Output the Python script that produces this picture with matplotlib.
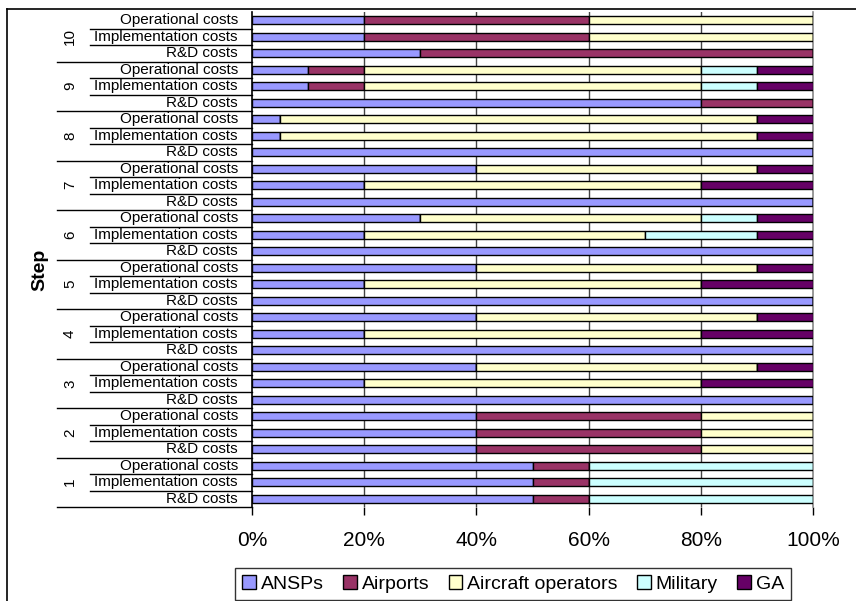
import numpy as np
import matplotlib.pyplot as plt
from matplotlib.patches import Rectangle
from matplotlib.lines import Line2D
import matplotlib.transforms as mtransforms

plt.rcParams['font.family'] = ['Liberation Sans', 'DejaVu Sans']

steps = [str(s) for s in range(1, 11)]
cost_types = ['R&D costs', 'Implementation costs', 'Operational costs']
tick_labels = ['0%', '20%', '40%', '60%', '80%', '100%']

# shares per row, bottom to top: step 1 (R&D, Impl, Op), step 2 ... step 10
ansps = [50, 50, 50,  40, 40, 40,  100, 20, 40,  100, 20, 40,  100, 20, 40,
         100, 20, 30,  100, 20, 40,  100, 5, 5,  80, 10, 10,  30, 20, 20]
airports = [10, 10, 10,  40, 40, 40,  0, 0, 0,  0, 0, 0,  0, 0, 0,
            0, 0, 0,  0, 0, 0,  0, 0, 0,  20, 10, 10,  70, 40, 40]
aircraft_operators = [0, 0, 0,  20, 20, 20,  0, 60, 50,  0, 60, 50,  0, 60, 50,
                      0, 50, 50,  0, 60, 50,  0, 85, 85,  0, 60, 60,  0, 40, 40]
military = [40, 40, 40,  0, 0, 0,  0, 0, 0,  0, 0, 0,  0, 0, 0,
            0, 20, 10,  0, 0, 0,  0, 0, 0,  0, 10, 10,  0, 0, 0]
ga = [0, 0, 0,  0, 0, 0,  0, 20, 10,  0, 20, 10,  0, 20, 10,
      0, 10, 10,  0, 20, 10,  0, 10, 10,  0, 10, 10,  0, 0, 0]

series = [('ANSPs', ansps, '#9999FF'),
          ('Airports', airports, '#993366'),
          ('Aircraft operators', aircraft_operators, '#FFFFCC'),
          ('Military', military, '#CCFFFF'),
          ('GA', ga, '#660066')]

fig = plt.figure(figsize=(8.56, 6.01), dpi=100)
ax = fig.add_axes([252/856, 94/601, 561/856, 495/601])

n_rows = len(steps) * len(cost_types)
y = np.arange(n_rows) + 0.5
left = np.zeros(n_rows)
handles = []
for name, vals, color in series:
    vals = np.array(vals, dtype=float)
    ax.barh(y, vals, left=left, height=0.5, color=color, edgecolor='black',
            linewidth=1.0, zorder=3)
    left += vals
    handles.append(Rectangle((0, 0), 1, 1, facecolor=color, edgecolor='black', linewidth=1.0))

ax.set_xlim(0, 100)
ax.set_ylim(0, n_rows)
ax.set_xticks(np.arange(0, 101, 20))
ax.set_xticklabels(tick_labels, fontsize=15)
ax.tick_params(axis='x', direction='out', length=6, width=1, pad=11, colors='black')
ax.set_yticks([])

for x in [20, 40, 60, 80]:
    ax.axvline(x, color='#444444', linewidth=1.0, zorder=1)
ax.spines['top'].set_visible(False)
ax.spines['bottom'].set_visible(False)
ax.spines['right'].set_color('#888888')
ax.spines['right'].set_linewidth(1.2)
ax.spines['left'].set_color('black')
ax.spines['left'].set_linewidth(1.2)

# multi-level category axis
trans = mtransforms.blended_transform_factory(ax.transAxes, ax.transData)
for i in range(n_rows):
    ax.text(-0.025, i + 0.5, cost_types[i % 3], transform=trans, ha='right',
            va='center', fontsize=11)
    x0 = -0.3476 if i % 3 == 0 else -0.2888
    ax.plot([x0, 0], [i, i], transform=trans, color='black', linewidth=1.0,
            clip_on=False)
for k, s in enumerate(steps):
    ax.text(-0.3244, k * 3 + 1.5, s, transform=trans, ha='center', va='center',
            rotation=90, fontsize=11)

fig.text(40/856, 1 - 270/601, 'Step', rotation=90, ha='center', va='center',
         fontsize=14, fontweight='bold')

# chart border
fig.add_artist(Line2D([7/856, 1], [1 - 9/601, 1 - 9/601], color='black', linewidth=1.2))
fig.add_artist(Line2D([7/856, 7/856], [0, 1 - 9/601], color='black', linewidth=1.2))

leg = fig.legend(handles, [s[0] for s in series], loc='center',
                 bbox_to_anchor=(513/856, 1 - 584/601), ncol=5, fontsize=14,
                 frameon=True, fancybox=False, handlelength=0.7, handleheight=0.7,
                 handletextpad=0.25, columnspacing=1.0, borderpad=0.38,
                 borderaxespad=0)
leg.get_frame().set_edgecolor('black')
leg.get_frame().set_linewidth(1.0)

fig.savefig('out.png', dpi=100)
